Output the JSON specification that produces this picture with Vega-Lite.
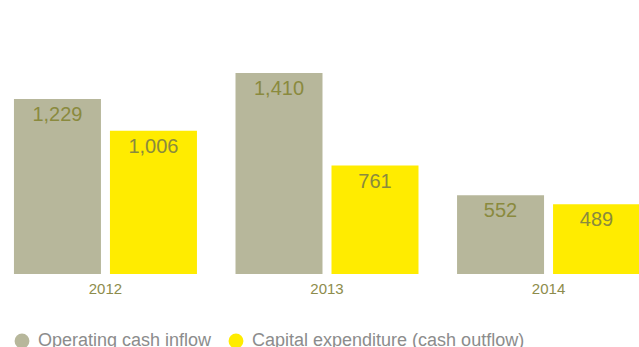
{
  "$schema": "https://vega.github.io/schema/vega-lite/v6.json",
  "width": 639,
  "height": 274,
  "autosize": {"type": "none"},
  "padding": {"left": 0, "top": 0, "right": 0, "bottom": 73},
  "background": "white",
  "title": {
    "text": "Operating cash flow vs capital expenditure (€m)",
    "anchor": "start",
    "frame": "group",
    "orient": "top",
    "offset": -12,
    "dx": 9,
    "baseline": "alphabetic",
    "font": "Liberation Sans",
    "fontWeight": "bold",
    "fontSize": 24,
    "color": "#8a8a3a"
  },
  "data": {
    "values": [
      {"year": "2012", "series": "Operating cash inflow", "value": 1229},
      {"year": "2012", "series": "Capital expenditure (cash outflow)", "value": 1006},
      {"year": "2013", "series": "Operating cash inflow", "value": 1410},
      {"year": "2013", "series": "Capital expenditure (cash outflow)", "value": 761},
      {"year": "2014", "series": "Operating cash inflow", "value": 552},
      {"year": "2014", "series": "Capital expenditure (cash outflow)", "value": 489}
    ]
  },
  "encoding": {
    "x": {
      "field": "year",
      "type": "nominal",
      "scale": {"range": [0, 654], "paddingInner": 0.174, "paddingOuter": 0.063},
      "axis": {
        "title": null,
        "domain": false,
        "ticks": false,
        "labelAngle": 0,
        "labelFont": "Liberation Sans",
        "labelFontSize": 15,
        "labelColor": "#8d8c4c",
        "labelPadding": 7
      }
    },
    "xOffset": {
      "field": "series",
      "type": "nominal",
      "sort": ["Operating cash inflow", "Capital expenditure (cash outflow)"],
      "scale": {"paddingInner": 0.09375, "paddingOuter": 0}
    },
    "y": {
      "field": "value",
      "type": "quantitative",
      "scale": {"domain": [0, 1923], "nice": false},
      "axis": null
    }
  },
  "layer": [
    {
      "mark": {"type": "bar"},
      "encoding": {
        "color": {
          "field": "series",
          "type": "nominal",
          "sort": ["Operating cash inflow", "Capital expenditure (cash outflow)"],
          "scale": {
            "domain": ["Operating cash inflow", "Capital expenditure (cash outflow)"],
            "range": ["#b7b79b", "#ffec00"]
          },
          "legend": {
            "title": null,
            "orient": "none",
            "legendX": 13,
            "legendY": 332,
            "direction": "horizontal",
            "padding": 0,
            "symbolType": "circle",
            "symbolSize": 220,
            "symbolStrokeWidth": 0,
            "symbolOpacity": 1,
            "labelFont": "Liberation Sans",
            "labelFontSize": 18,
            "labelColor": "#8c8c8c",
            "labelOffset": 7,
            "labelLimit": 400,
            "columnPadding": 15
          }
        }
      }
    },
    {
      "mark": {
        "type": "text",
        "baseline": "middle",
        "align": "center",
        "dy": 16,
        "font": "Liberation Sans",
        "fontSize": 20,
        "color": "#8a8a3e"
      },
      "encoding": {
        "text": {"field": "value", "type": "quantitative", "format": ","}
      }
    }
  ],
  "config": {
    "view": {"stroke": null}
  }
}
